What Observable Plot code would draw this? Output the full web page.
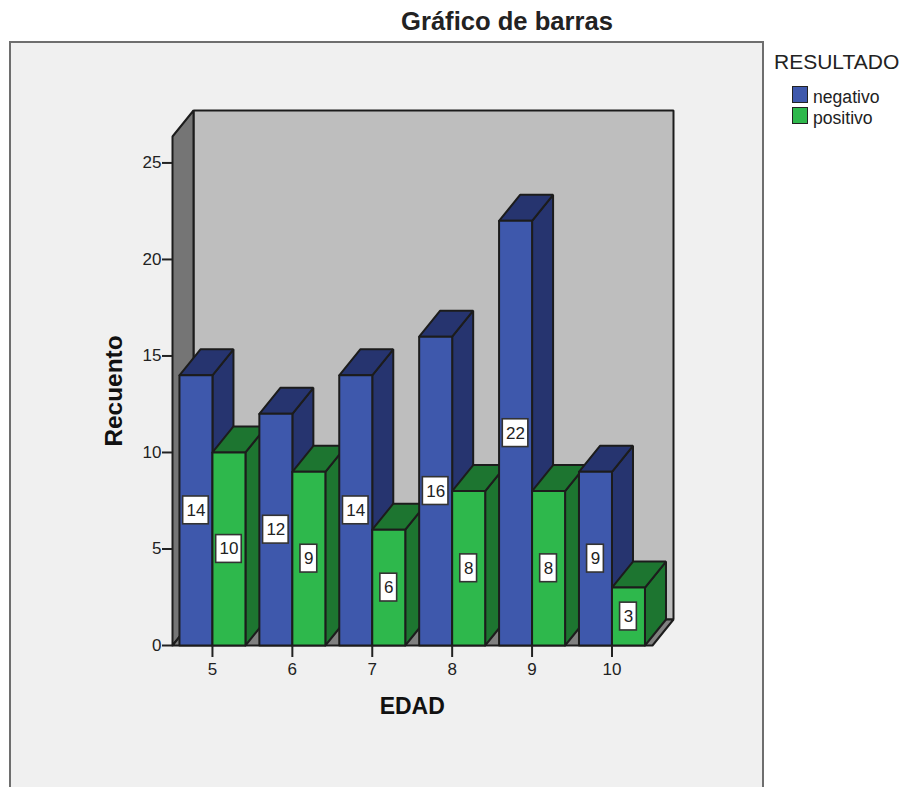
<!DOCTYPE html>
<html><head><meta charset="utf-8">
<script src="https://cdn.jsdelivr.net/npm/d3@7"></script>
<script src="https://cdn.jsdelivr.net/npm/@observablehq/plot@0.6"></script>
<style>
html,body{margin:0;padding:0;background:#fff;overflow:hidden}
#page{position:relative;width:903px;height:787px;font-family:"Liberation Sans",Arial,sans-serif;overflow:hidden}
#panel{position:absolute;left:8.5px;top:41px;width:751.5px;height:760px;background:#f0f0f0;border:2.5px solid #6e6e6e;box-sizing:content-box}
#title{position:absolute;left:307px;width:400px;top:7px;text-align:center;font-weight:bold;font-size:25.6px;line-height:28px;color:#222}
#legtitle{position:absolute;left:774px;top:50px;font-size:21px;line-height:24px;color:#222}
.sw{position:absolute;left:792px;width:14px;height:15px;border:1.5px solid #222}
.lab{position:absolute;left:813px;font-size:17.6px;line-height:20px;color:#222}
#chart{position:absolute;left:0;top:0}
svg{background:transparent!important;display:block}
</style></head><body>
<div id="page">
  <div id="panel"></div>
  <div id="title">Gráfico de barras</div>
  <div id="legtitle">RESULTADO</div>
  <div class="sw" style="top:86px;background:#3e58ac"></div><div class="lab" style="top:87px">negativo</div>
  <div class="sw" style="top:107px;background:#2eb84c"></div><div class="lab" style="top:108px">positivo</div>
  <div id="chart"></div>
</div>
<script>
const edades = [5, 6, 7, 8, 9, 10];
const negativo = [14, 12, 14, 16, 22, 9];
const positivo = [10, 9, 6, 8, 8, 3];
const yTicks = [0, 5, 10, 15, 20, 25];

const colors = {
  wall: "#bebebe", side: "#757575", floor: "#808080",
  negFront: "#3e58ac", negTop: "#26346f", negSide: "#26346f",
  posFront: "#2eb84c", posTop: "#1d7530", posSide: "#1d7530"
};

// Box proportions in data units (3-D extrusion of the SPSS chart)
const barW = 0.413, dX = 0.263, dY = 1.347;
const x0 = 4.5, x1 = 10.77, yFront = 26.37, yBack = yFront + dY;

const faces = [];
function face(key, pts) {
  const id = faces.length ? faces[faces.length - 1].id + 1 : 0;
  for (const [x, y] of [...pts, pts[0]]) faces.push({id, key, x, y});
}
face("wall", [[x0 + dX, dY], [x1, dY], [x1, yBack], [x0 + dX, yBack]]);
face("side", [[x0, 0], [x0 + dX, dY], [x0 + dX, yBack], [x0, yFront]]);
face("floor", [[x0, 0], [x1 - dX, 0], [x1, dY], [x0 + dX, dY]]);

function bar(a, b, v, p) {
  face(p + "Side", [[b, 0], [b + dX, dY], [b + dX, v + dY], [b, v]]);
  face(p + "Top", [[a, v], [b, v], [b + dX, v + dY], [a + dX, v + dY]]);
  face(p + "Front", [[a, 0], [b, 0], [b, v], [a, v]]);
}
const labels = [];
edades.forEach((e, i) => {
  bar(e - barW, e, negativo[i], "neg");
  bar(e, e + barW, positivo[i], "pos");
  labels.push({x: e - barW / 2, v: negativo[i]}, {x: e + barW / 2, v: positivo[i]});
});

const keys = Object.keys(colors);
const halfW = d => (d.v >= 10 ? 0.16 : 0.105);
const halfH = 0.72;

const plot = Plot.plot({
  width: 903, height: 787,
  marginLeft: 172, marginRight: 230, marginTop: 110, marginBottom: 142,
  x: {domain: [x0, x1], axis: null},
  y: {domain: [0, yBack], axis: null},
  color: {domain: keys, range: keys.map(k => colors[k])},
  style: {background: "transparent"},
  marks: [
    Plot.line(faces, {x: "x", y: "y", z: "id", fill: "key", stroke: "#1c1c1c", strokeWidth: 2, strokeLinejoin: "miter", curve: "linear"}),
    Plot.rect(labels, {x1: d => d.x - halfW(d), x2: d => d.x + halfW(d), y1: d => d.v / 2 - halfH, y2: d => d.v / 2 + halfH, fill: "#fff", stroke: "#333", strokeWidth: 1.6}),
    Plot.text(labels, {x: "x", y: d => d.v / 2, text: d => String(d.v), fontSize: 17, fill: "#222", fontFamily: "Liberation Sans"}),
    Plot.axisY({ticks: yTicks, tickSize: 10, tickPadding: 1, label: null, fontSize: 17, stroke: "#222", fill: "#222", fontFamily: "Liberation Sans", strokeWidth: 2}),
    Plot.axisX({ticks: edades, tickSize: 12, tickPadding: 5, label: null, fontSize: 17, stroke: "#222", fill: "#222", fontFamily: "Liberation Sans", strokeWidth: 2, tickFormat: String}),
    Plot.text(["EDAD"], {x: d3.mean(edades), y: 0, dy: 61, fontSize: 23, fontWeight: "bold", fill: "#111", fontFamily: "Liberation Sans"}),
    Plot.text(["Recuento"], {x: x0, y: yFront / 2, dx: -58, rotate: -90, fontSize: 24.4, fontWeight: "bold", fill: "#111", fontFamily: "Liberation Sans"})
  ]
});
document.getElementById("chart").append(plot);
</script>
</body></html>
